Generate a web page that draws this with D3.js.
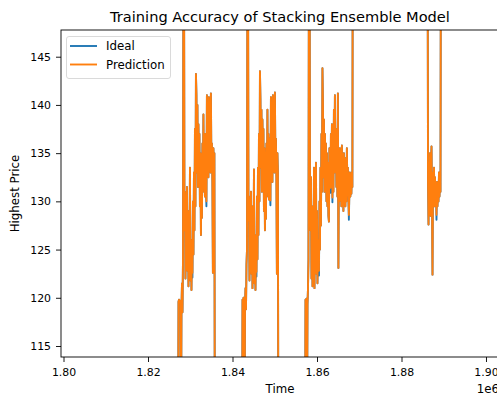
<!DOCTYPE html>
<html lang="en">
<head>
<meta charset="UTF-8">
<title>Training Accuracy of Stacking Ensemble Model</title>
<script src="https://d3js.org/d3.v7.min.js"></script>
<style>
  body { margin: 0; background: #fff; font-family: "DejaVu Sans", sans-serif; }
  .axis text { font-family: "DejaVu Sans", sans-serif; font-size: 10.9px; fill: #000; }
  .axis line { stroke: #000; stroke-width: 0.9px; }
  .axis path { display: none; }
</style>
</head>
<body>
<svg width="497" height="396"></svg>
<script>
// sampling interval and first timestamp of each visible run of data
const step = 118;
const segStart = [1827100, 1842250, 1857160, 1886040];

// run 1
const pred1 = [100,119.6,119.8,119.5,119.7,119.4,104,119.0,121.5,118.5,
  124,160,158,127,131,122,128.5,123.5,131.5,122.8,
  129,121.2,127,124.5,133.5,121.8,126,120.8,125.5,122.6,
  130,124.5,133,127,137.5,129.5,143.2,141,133,140,
  131.5,138,134.1,137,129.5,135,126.5,134,128.3,136,
  131,139,132,136.5,130.5,137,131.5,130.0,141,133,
  138,132.5,140.8,134,137.5,133,141.2,134,136,132,
  122.6,135.5,133.5,135,100];
const ideal1 = [100,119.6,119.8,119.5,119.7,119.4,104,119.0,121.5,118.5,
  124,160,158,127,131,122,128.5,123.5,131.5,122.8,
  129,121.2,127,124.5,133.5,121.8,126,120.8,125.5,122.1,
  130,124.5,133,127,137.5,129.5,143.2,141,133,140,
  131.5,138,133.6,137,129.5,135,126.5,134,128.3,136,
  131,139,132,136.5,130.5,137,131.5,129.5,141,133,
  138,132.5,140.8,134,137.5,133,141.2,134,136,132,
  122.6,135.5,133.5,135,100];

// run 2
const pred2 = [100,119.8,119.6,120,119.5,103,119.2,121,118.8,123.5,
  125,160,157,128,130.5,121.8,129,123,131,122.5,
  129.5,121,127.5,124,133.3,121.5,126.5,120.8,125,122.7,
  130.5,124,133.5,126.5,137,130,143.5,140.5,133.5,139.5,
  131,138.5,134,137.5,129,135.5,127,134.5,128.2,136,
  130.5,139.5,131.5,137,130.2,136.5,131,130.1,140.8,133,
  138.5,132,141,134.5,137,133,141.3,134,136.5,132.5,
  122.5,135,133,100];
const ideal2 = [100,119.8,119.6,120,119.5,103,119.2,121,118.8,123.5,
  125,160,157,128,130.5,121.8,129,123,131,122.5,
  129.5,121,127.5,124,133.3,121.5,126.5,120.8,125,122.2,
  130.5,124,133.5,126.5,137,130,143.5,140.5,133.5,139.5,
  131,138.5,133.5,137.5,129,135.5,127,134.5,128.2,136,
  130.5,139.5,131.5,137,130.2,136.5,131,129.6,140.8,133,
  138.5,132,141,134.5,137,133,141.3,134,136.5,132.5,
  122.5,135,133,100];

// run 3
const pred3 = [100,119.8,119.5,119.9,104,119.3,121,124,163,162,
  133,127,132.5,122,128.5,121.2,129.5,123,133.5,121,
  127,124,134,122.5,129,121.5,126,123,122.8,130,
  125,133.5,127.5,137,131,143.8,140,132.5,138.5,131,
  137,133,136,130,135,129.5,134,128.5,127.9,135.5,
  131.5,131.4,137,132,138,130.4,136,131,139.5,133,
  141,134,137.5,131.5,136,130.5,141.2,123.1,134.5,130,
  135.5,131,134,129.5,135.8,130.5,133.5,129,135,131,
  134.5,129.5,133,130,135.5,131.5,133.5,130.5,128.6,131,
  133,130.5,132.5,130.8,133,131.5,164,166];
const ideal3 = [100,119.8,119.5,119.9,104,119.3,121,124,163,162,
  133,127,132.5,122,128.5,121.2,129.5,123,133.5,121,
  127,124,134,122.5,129,121.5,126,123,122.3,130,
  125,133.5,127.5,137,131,143.8,140,132.5,138.5,131,
  137,133,136,130,135,129.5,134,128.5,127.9,135.5,
  131.5,130.9,137,132,138,129.9,136,131,139.5,133,
  141,134,137.5,131.5,136,130.5,141.2,123.1,134.5,130,
  135.5,131,134,129.5,135.8,130.5,133.5,129,135,131,
  134.5,129.5,133,130,135.5,131.5,133.5,130.5,128.1,131,
  133,130.5,132.5,130.8,133,131.5,164,166];

// run 4
const pred4 = [166,165,132.1,127.6,134,129,135,128.5,133.5,135.7,
  130,122.4,133,130.5,133.5,129.5,132.5,130,131.5,128.6,
  132,129.5,131.5,130,133,130.5,132,131,165,166];
const ideal4 = [166,165,132.1,127.6,134,129,135,128.5,133.5,135.7,
  130,122.4,133,130.5,133.5,129.5,132.5,130,131.5,128.1,
  132,129.5,131.5,130,133,130.5,132,131,165,166];

const xTicks = [1800000, 1820000, 1840000, 1860000, 1880000, 1900000];
const yTicks = [115, 120, 125, 130, 135, 140, 145];

const seriesNames = ["Ideal", "Prediction"];
const colors = ["#1f77b4", "#ff7f0e"];

function toPoints(runs) {
  return runs.flatMap((vals, k) => vals.map((v, i) => ({ t: segStart[k] + i * step, v: v })));
}
const seriesData = [toPoints([ideal1, ideal2, ideal3, ideal4]), toPoints([pred1, pred2, pred3, pred4])];

const mLeft = 61, mRight = 499, mTop = 30, mBottom = 357;

const x = d3.scaleLinear().domain([1799408, 1903077]).range([mLeft, mRight]);
const y = d3.scaleLinear().domain([113.86, 147.77]).range([mBottom, mTop]);

const svg = d3.select("svg");

svg.append("clipPath").attr("id", "plot")
  .append("rect").attr("x", mLeft).attr("y", mTop)
  .attr("width", mRight - mLeft).attr("height", mBottom - mTop);

const line = d3.line().x(d => x(d.t)).y(d => y(d.v));

svg.append("g").attr("clip-path", "url(#plot)")
  .selectAll("path")
  .data(seriesData)
  .enter()
  .append("path")
  .attr("d", line)
  .attr("fill", "none")
  .attr("stroke", (d, i) => colors[i])
  .attr("stroke-width", 1.9)
  .attr("stroke-linejoin", "round");

// frame
svg.append("rect")
  .attr("x", mLeft).attr("y", mTop)
  .attr("width", mRight - mLeft).attr("height", mBottom - mTop)
  .attr("fill", "none").attr("stroke", "#000").attr("stroke-width", 0.9);

svg.append("g").attr("class", "axis")
  .attr("transform", `translate(0,${mBottom})`)
  .call(d3.axisBottom(x).tickValues(xTicks).tickFormat(d => (d / 1e6).toFixed(2))
    .tickSize(5).tickSizeOuter(0).tickPadding(6));

svg.append("g").attr("class", "axis")
  .attr("transform", `translate(${mLeft},0)`)
  .call(d3.axisLeft(y).tickValues(yTicks).tickSize(5).tickSizeOuter(0).tickPadding(5));

svg.append("text")
  .attr("x", (mLeft + mRight) / 2).attr("y", 22)
  .attr("text-anchor", "middle")
  .style("font-size", "14.6px")
  .text("Training Accuracy of Stacking Ensemble Model");

svg.append("text")
  .attr("x", (mLeft + mRight) / 2).attr("y", 393)
  .attr("text-anchor", "middle")
  .style("font-size", "11.8px")
  .text("Time");

svg.append("text")
  .attr("x", mRight).attr("y", 393)
  .attr("text-anchor", "end")
  .style("font-size", "11.8px")
  .text("1e6");

svg.append("text")
  .attr("transform", `translate(19,${(mTop + mBottom) / 2}) rotate(-90)`)
  .attr("text-anchor", "middle")
  .style("font-size", "11.8px")
  .text("Highest Price");

// legend
const legend = svg.append("g");
legend.append("rect")
  .attr("x", 66.5).attr("y", 36.5).attr("width", 104).attr("height", 42)
  .attr("rx", 2.5)
  .attr("fill", "#fff").attr("fill-opacity", 0.8)
  .attr("stroke", "#d6d6d6").attr("stroke-width", 0.9);

const item = legend.selectAll(".item")
  .data(seriesNames)
  .enter()
  .append("g")
  .attr("transform", (d, i) => `translate(0,${46 + i * 18.5})`);

item.append("line")
  .attr("x1", 70).attr("x2", 97)
  .attr("stroke", (d, i) => colors[i]).attr("stroke-width", 1.9);

item.append("text")
  .attr("x", 106).attr("y", 4.3)
  .style("font-size", "11.8px")
  .text(d => d);
</script>
</body>
</html>
